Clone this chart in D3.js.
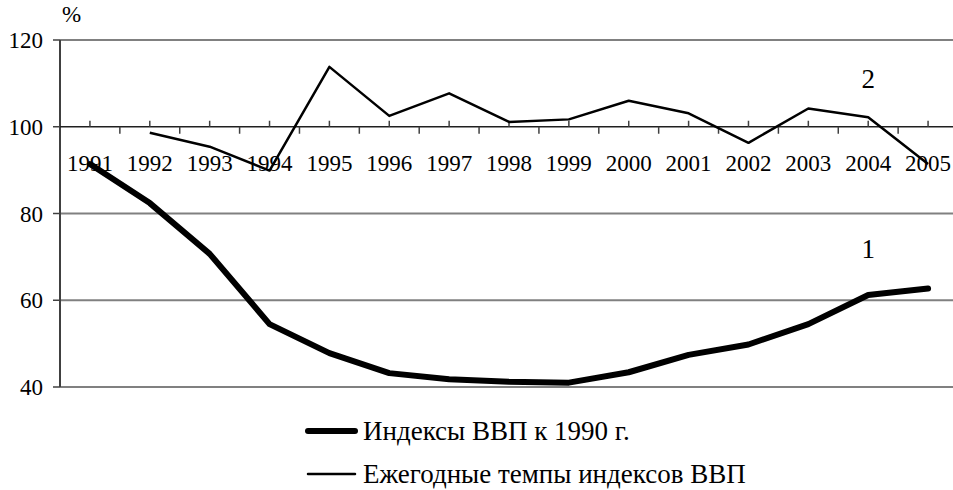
<!DOCTYPE html>
<meta charset="utf-8">
<style>
body { margin: 0; background: #fff; }
.grid line { stroke: #808080; stroke-width: 2px; }
</style>
<svg width="953" height="490"></svg>
<script src="https://cdn.jsdelivr.net/npm/d3@7"></script>
<script>

var years = ["1991", "1992", "1993", "1994", "1995", "1996", "1997", "1998",
             "1999", "2000", "2001", "2002", "2003", "2004", "2005"];

// 1 - индексы ВВП к 1990 г.
var gdpIndex = [91.4, 82.4, 70.7, 54.5, 47.8, 43.2, 41.8, 41.2, 41.0, 43.4, 47.4, 49.8, 54.5, 61.2, 62.7];

// 2 - ежегодные темпы (с 1992)
var gdpRate = [null, 98.6, 95.4, 89.9, 113.8, 102.5, 107.7, 101.1, 101.7, 106.0, 103.1, 96.3, 104.2, 102.2, 91.4];

var yTicks = [40, 60, 80, 100, 120];

var seriesNames = ["Индексы ВВП к 1990 г.", "Ежегодные темпы индексов ВВП"];

var svg = d3.select("svg"),
    margin = {top: 40, right: -5, bottom: 103, left: 60},
    W = +svg.attr("width"),
    H = +svg.attr("height");

// scales work in page coordinates so labels can sit straight in the svg
var x = d3.scaleBand()
    .domain(years)
    .range([margin.left, W - margin.right]);

var y = d3.scaleLinear()
    .domain([40, 120])
    .range([H - margin.bottom, margin.top]);

function mid(d) { return x(d) + x.bandwidth() / 2; }
function cx(d, i) { return mid(years[i]); }

function addText(px, py, str, size, anchor) {
  return svg.append("text")
      .attr("x", px)
      .attr("y", py)
      .attr("text-anchor", anchor || "start")
      .style("font-family", "'Liberation Serif'")
      .style("font-size", size + "px")
      .style("fill", "#000")
      .text(str);
}

var x0 = margin.left, x1 = W - margin.right;

// horizontal grid (100 is the category axis)
svg.append("g")
    .attr("class", "grid")
  .selectAll("line")
  .data(yTicks.filter(function(d) { return d !== 100; }))
  .enter().append("line")
    .attr("x1", x0)
    .attr("x2", x1)
    .attr("y1", function(d) { return y(d); })
    .attr("y2", function(d) { return y(d); });

// y axis
svg.append("line")
    .attr("x1", x0).attr("x2", x0)
    .attr("y1", y(120)).attr("y2", y(40))
    .attr("stroke", "#404040")
    .attr("stroke-width", 2);

svg.append("g").selectAll("line")
  .data(yTicks)
  .enter().append("line")
    .attr("x1", x0 - 7).attr("x2", x0)
    .attr("y1", function(d) { return y(d); })
    .attr("y2", function(d) { return y(d); })
    .attr("stroke", "#404040")
    .attr("stroke-width", 1.5);

yTicks.forEach(function(d) {
  addText(x0 - 17, y(d) + 8, d, 23, "end");
});

addText(x0 + 2, y(120) - 18, "%", 23);

// category axis crossing at 100
var axisY = y(100);

svg.append("line")
    .attr("x1", x0).attr("x2", x1)
    .attr("y1", axisY).attr("y2", axisY)
    .attr("stroke", "#202020")
    .attr("stroke-width", 1.5);

// ticks: up at category centres, down at boundaries
svg.append("g").selectAll("line")
  .data(years)
  .enter().append("line")
    .attr("x1", mid)
    .attr("x2", mid)
    .attr("y1", axisY - 6)
    .attr("y2", axisY)
    .attr("stroke", "#404040")
    .attr("stroke-width", 1.5);

svg.append("g").selectAll("line")
  .data(years.slice(1))
  .enter().append("line")
    .attr("x1", function(d) { return x(d); })
    .attr("x2", function(d) { return x(d); })
    .attr("y1", axisY)
    .attr("y2", axisY + 7)
    .attr("stroke", "#404040")
    .attr("stroke-width", 1.5);

years.forEach(function(d) {
  addText(mid(d), axisY + 44, d, 23, "middle");
});

// lines
var line = d3.line()
    .defined(function(d) { return d != null; })
    .x(cx)
    .y(function(d) { return y(d); });

svg.append("path")
    .datum(gdpRate)
    .attr("fill", "none")
    .attr("stroke", "#000")
    .attr("stroke-width", 2.5)
    .attr("stroke-linejoin", "round")
    .attr("d", line);

svg.append("path")
    .datum(gdpIndex)
    .attr("fill", "none")
    .attr("stroke", "#000")
    .attr("stroke-width", 6)
    .attr("stroke-linejoin", "round")
    .attr("stroke-linecap", "round")
    .attr("d", line);

// series numbers
addText(mid("2004"), y(gdpRate[13]) - 29, "2", 27, "middle");
addText(mid("2004"), y(gdpIndex[13]) - 37, "1", 27, "middle");

// legend
seriesNames.forEach(function(name, i) {
  var ly = 431 + i * 43;
  svg.append("line")
      .attr("x1", 308).attr("x2", 355)
      .attr("y1", ly).attr("y2", ly)
      .attr("stroke", "#000")
      .attr("stroke-width", i === 0 ? 6 : 2.5)
      .attr("stroke-linecap", "round");
  addText(363, ly + 9, name, 27);
});

</script>
